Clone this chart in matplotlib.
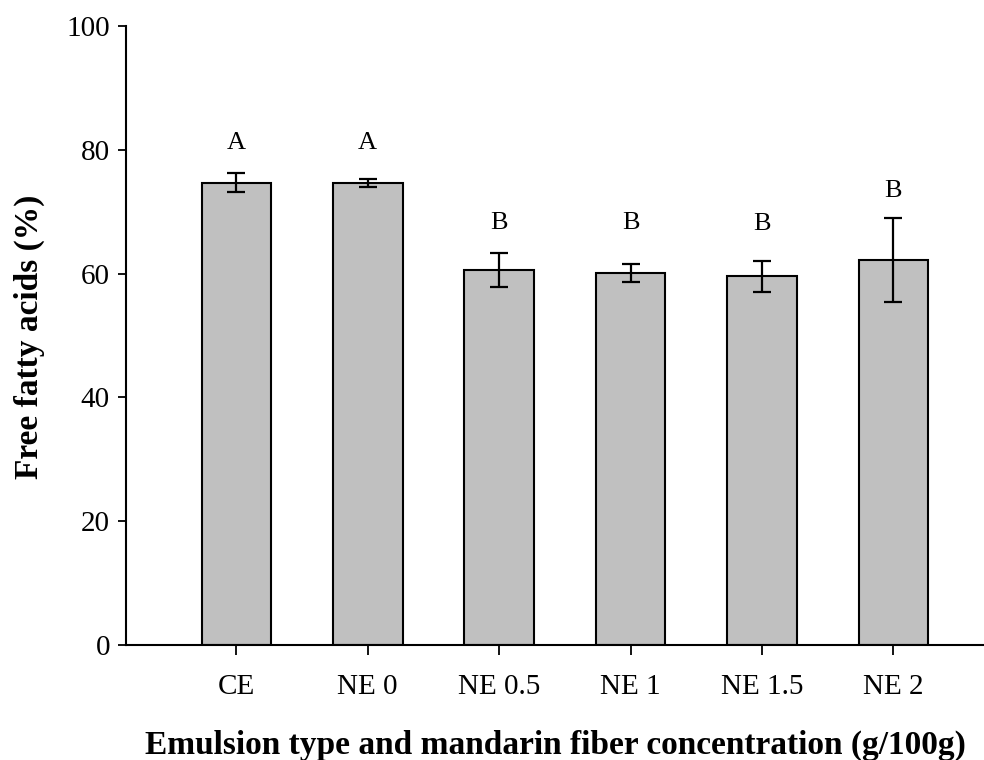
import matplotlib
matplotlib.use("Agg")
import matplotlib.pyplot as plt
import numpy as np

plt.rcParams["font.family"] = ["Liberation Serif", "DejaVu Serif"]

categories = ["CE", "NE 0", "NE 0.5", "NE 1", "NE 1.5", "NE 2"]
ffa_mean = [74.7, 74.6, 60.6, 60.1, 59.6, 62.2]
ffa_err = [1.6, 0.6, 2.8, 1.4, 2.5, 6.8]
group_letters = ["A", "A", "B", "B", "B", "B"]
letter_heights = [81.1, 81.1, 68.1, 68.1, 68.0, 73.3]

fig = plt.figure(figsize=(9.84, 7.6), dpi=100)
ax = fig.add_axes([0.128, 0.151, 0.872, 0.815])

x = np.arange(len(categories))
ax.bar(x, ffa_mean, width=0.53, color="#c0c0c0", edgecolor="black",
       linewidth=1.5, zorder=2)
ax.errorbar(x, ffa_mean, yerr=ffa_err, fmt="none", ecolor="black",
            elinewidth=1.6, capsize=6.5, capthick=1.6, zorder=3)

for xi, lab, h in zip(x, group_letters, letter_heights):
    ax.text(xi, h, lab, ha="center", va="center", fontsize=19)

ax.set_xlim(-0.84, 5.69)
ax.set_ylim(0, 100)
ax.set_yticks(np.arange(0, 101, 20))
ax.set_xticks(x)
ax.set_xticklabels(categories)

for side in ["top", "right"]:
    ax.spines[side].set_visible(False)
for side in ["left", "bottom"]:
    ax.spines[side].set_linewidth(1.5)

ax.tick_params(axis="both", direction="out", width=1.3, labelsize=21)
ax.tick_params(axis="y", length=6, pad=5.5)
ax.tick_params(axis="x", length=7, pad=14)

ax.set_ylabel("Free fatty acids (%)", fontsize=24, fontweight="bold")
ax.yaxis.set_label_coords(-0.094, 0.498)
ax.set_xlabel("Emulsion type and mandarin fiber concentration (g/100g)",
              fontsize=24, fontweight="bold")
ax.xaxis.set_label_coords(0.5, -0.136)

fig.savefig("out.png", dpi=100)
